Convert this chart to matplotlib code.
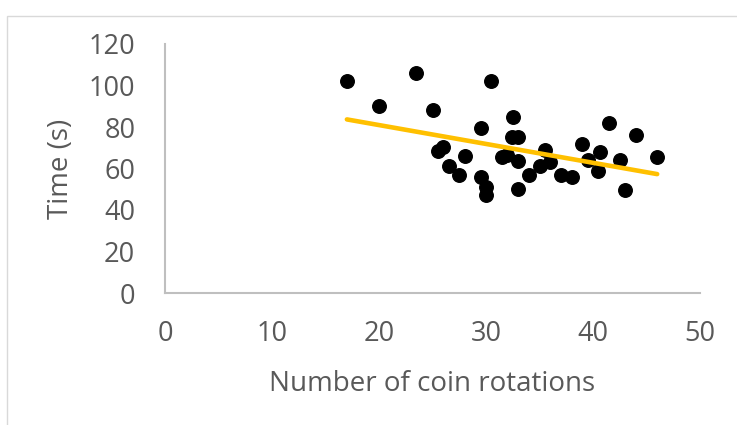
import numpy as np
import matplotlib
matplotlib.use("Agg")
import matplotlib.pyplot as plt
from matplotlib.patches import Rectangle

# coin rotations vs time
rotations = [17, 20, 23.5, 25, 25.5, 26, 26.5, 27.5, 28, 29.5, 29.5, 30, 30, 30.5,
             31.5, 32, 32.4, 32.5, 33, 33, 33, 34, 35, 35.5, 36, 37, 38, 39,
             39.5, 40.5, 40.7, 41.5, 42.5, 43, 44, 46]
times = [102, 90, 106, 88, 68.5, 70.5, 61, 57, 66, 79.5, 56, 51, 47, 102,
         65.5, 66.5, 75, 85, 75, 63.5, 50, 57, 61, 69, 63, 57, 56, 72,
         64, 59, 68, 82, 64, 49.5, 76, 65.5]

x_ticks = [0, 10, 20, 30, 40, 50]
y_ticks = [0, 20, 40, 60, 80, 100, 120]

plt.rcParams['font.family'] = ['Open Sans', 'DejaVu Sans']
grey = "#595959"

fig = plt.figure(figsize=(7.37, 4.25), dpi=100)
ax = fig.add_axes([165 / 737, 132 / 425, 535 / 737, 249 / 425])

# linear trendline over the data range
x = np.array(rotations)
y = np.array(times)
slope, intercept = np.polyfit(x, y, 1)
xs = np.array([x.min(), x.max()])
ax.plot(xs, slope * xs + intercept, color="#FFC000", lw=3.3, solid_capstyle="round", zorder=3)

ax.scatter(rotations, times, s=95, color="black", zorder=2)

ax.set_xlim(0, 50)
ax.set_ylim(0, 120)
ax.set_xticks(x_ticks)
ax.set_yticks(y_ticks)
ax.tick_params(length=0, labelsize=19.5, labelcolor=grey)
ax.tick_params(axis="x", pad=19.5)
ax.tick_params(axis="y", pad=21.5)
for side in ["top", "right"]:
    ax.spines[side].set_visible(False)
for side in ["left", "bottom"]:
    ax.spines[side].set_color("#BFBFBF")
    ax.spines[side].set_linewidth(1.5)

ax.set_xlabel("Number of coin rotations", fontsize=20, color=grey)
ax.set_ylabel("Time (s)", fontsize=20, color=grey)
ax.xaxis.set_label_coords(0.5, -0.309)
ax.yaxis.set_label_coords(-0.168, 0.5)

# chart area border
fig.patches.append(Rectangle((7 / 737, -0.01), 1.0, (425 - 16) / 425 + 0.01,
                             transform=fig.transFigure, fill=False,
                             edgecolor="#D9D9D9", lw=1))

fig.savefig("out.png", dpi=100)
